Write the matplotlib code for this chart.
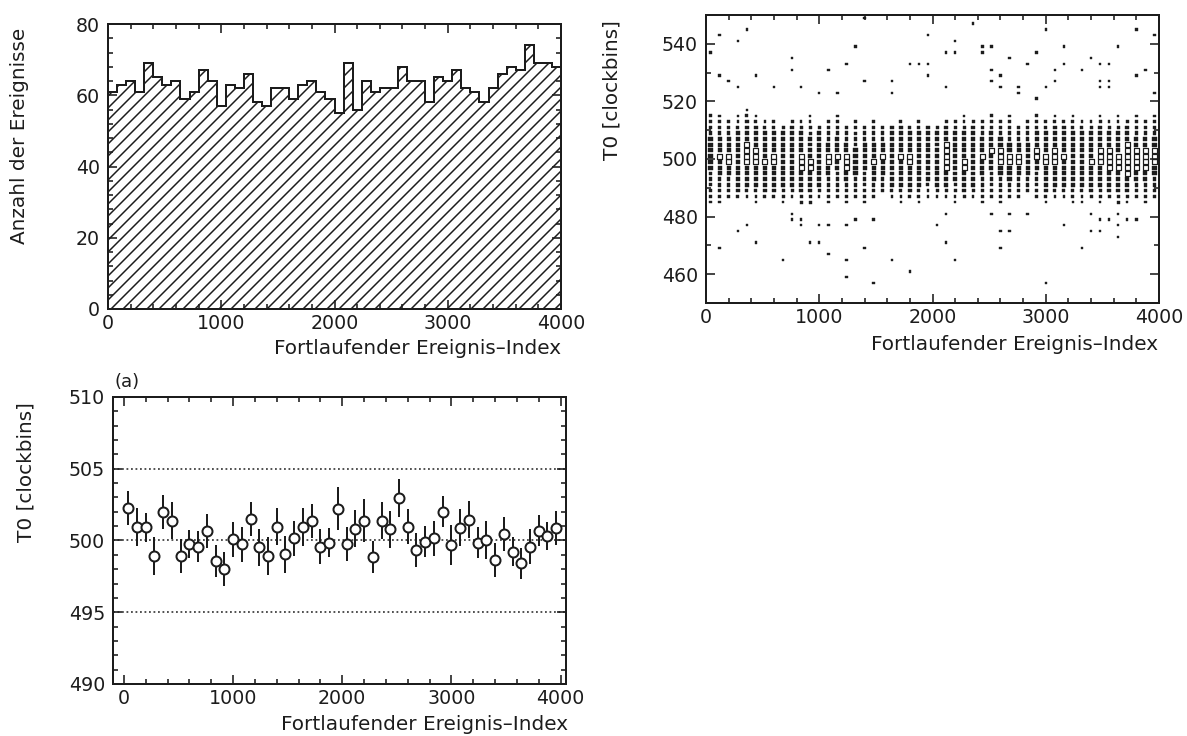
import numpy as np
import matplotlib
matplotlib.use("Agg")
import matplotlib.pyplot as plt
from matplotlib.ticker import MultipleLocator

# ---------------- data ----------------
# event-index binning (80 events per bin, 0..4000)
bin_edges = np.arange(0, 4001, 80)
bin_centers = (bin_edges[:-1] + bin_edges[1:]) / 2

# top-left: number of events per bin
hist_counts = [61, 63, 64, 61, 69, 65, 63, 64, 59, 61,
               67, 64, 57, 63, 62, 66, 58, 57, 62, 62,
               59, 63, 64, 61, 59, 55, 69, 56, 64, 61,
               62, 62, 68, 64, 64, 58, 65, 64, 67, 62,
               61, 58, 62, 66, 68, 67, 74, 69, 69, 68]

# top-right: T0 box plot (2 clockbin rows)
t0_edges = np.arange(450, 551, 2)
band_rows = [485, 487, 489, 491, 493, 495, 497, 499, 501, 503, 505, 507, 509, 511, 513, 515, 517]
band_row_counts = [1.0, 1.6, 2.4, 3.0, 3.4, 4.0, 4.3, 4.6, 4.6, 4.3, 4.0, 3.4, 3.0, 2.4, 1.6, 1.0, 1.0]
band_hi = [515, 515, 513, 515, 517, 515, 513, 513, 511, 513,
           513, 515, 511, 513, 515, 511, 513, 511, 513, 511,
           511, 513, 511, 513, 511, 511, 513, 513, 515, 513,
           513, 515, 513, 515, 511, 513, 515, 513, 515, 513,
           515, 513, 513, 515, 513, 515, 513, 515, 513, 515]
band_lo = [485, 485, 487, 487, 487, 485, 487, 487, 485, 487,
           485, 485, 487, 485, 487, 485, 487, 485, 487, 489,
           487, 485, 487, 485, 487, 487, 487, 485, 487, 487,
           485, 487, 485, 487, 487, 489, 487, 485, 487, 487,
           485, 485, 487, 485, 487, 485, 485, 487, 485, 487]
outlier_idx = [88, 9, 250, 333, 88, 171, 259, 421, 1369, 1296, 1225, 1060, 736, 736, 824, 983,
               1770, 1870, 1944, 1944, 1944, 2099, 2179, 2179, 2335, 2423, 2503, 2423, 2503, 2585,
               2662, 2827, 2903, 2983, 3062, 3062, 3145, 3145, 3307, 3386, 3469, 3469, 3469, 2126,
               1620, 1372, 1625, 2585, 2503, 2750, 2750, 2903, 2983, 1143, 577, 3803, 3639, 3567,
               3567, 3567, 3869, 3797, 3961, 3961,
               112, 274, 356, 442, 686, 766, 766, 842, 842, 922, 995, 995, 1078, 1078, 1245, 1245,
               1245, 1325, 1407, 1487, 1487, 1649, 1811, 2047, 2126, 2126, 2208, 2521, 2600, 2600,
               2680, 2680, 2845, 3004, 3160, 3322, 3395, 3395, 3475, 3491, 3567, 3632, 3639, 3639,
               3803, 3704]
outlier_t0 = [543, 537, 541, 545, 529, 527, 525, 529.5, 548.5, 538, 532, 530, 535.7, 531.6, 525.6, 523.4,
              532.4, 532.4, 532.4, 542.7, 528.3, 536.7, 536.7, 540.8, 547, 539, 539, 536.7, 531, 529,
              535, 533, 537, 545.5, 531, 527, 539.4, 533.3, 531.5, 535.7, 533.6, 527, 525, 524,
              527.7, 526, 522, 524.8, 526.6, 524.8, 523, 520.7, 524.8, 523.7, 525.4, 545.4, 539.4, 533.4,
              526.8, 525, 531.4, 529.3, 542.5, 522.7,
              468.5, 474.4, 476.7, 470.9, 465.2, 480.5, 478.8, 478.8, 477, 471.2, 471.2, 477.3, 477.3, 467.7, 477.4, 465.4,
              459.9, 479.4, 469.7, 479.4, 457.8, 465.7, 461.9, 477.6, 471.8, 480, 464.2, 480, 475.9, 468.3,
              474, 480, 480.3, 456.6, 476.7, 468.5, 474.7, 480.8, 475, 479.6, 479, 481.9, 476.7, 472.9,
              479, 479]
# box side (px) for a cell content of 1..7 entries; small boxes look solid
box_side = [0, 2.4, 3.0, 3.6, 4.1, 5.0, 5.3, 5.6]

# bottom-left: mean T0 per bin with errors
t0_mean = [502.26, 500.93, 500.93, 498.91, 501.98, 501.37, 498.91, 499.75, 499.57, 500.67,
           498.56, 498.00, 500.08, 499.73, 501.49, 499.52, 498.91, 500.97, 499.03, 500.15,
           500.93, 501.37, 499.57, 499.85, 502.21, 499.75, 500.83, 501.37, 498.86, 501.37,
           500.78, 502.96, 500.97, 499.33, 499.92, 500.15, 502.02, 499.68, 500.90, 501.44,
           499.85, 500.04, 498.63, 500.46, 499.22, 498.40, 499.57, 500.69, 500.32, 500.86]
t0_err = [1.2, 1.3, 1.0, 1.3, 1.2, 1.3, 1.2, 1.0, 1.1, 1.2,
          1.1, 1.2, 1.2, 1.2, 1.2, 1.3, 1.3, 1.3, 1.3, 1.2,
          1.3, 1.2, 1.2, 1.0, 1.5, 1.2, 1.3, 1.5, 1.1, 1.3,
          1.3, 1.3, 1.2, 1.2, 1.1, 1.2, 1.1, 1.4, 1.3, 1.3,
          1.1, 1.3, 1.2, 1.2, 1.0, 1.1, 1.2, 1.1, 1.0, 1.2]
ref_lines = [495.0, 500.0, 505.0]

xlabel = "Fortlaufender Ereignis\u2013Index"
ylabel_hist = "Anzahl der Ereignisse"
ylabel_t0 = "T0 [clockbins]"

# ---------------- figure ----------------
INK = "#1c1c1c"
plt.rcParams.update({
    "font.family": ["DejaVu Sans"],
    "text.color": INK, "axes.edgecolor": INK,
    "xtick.color": INK, "ytick.color": INK,
    "axes.linewidth": 2.0, "hatch.linewidth": 1.5, "hatch.color": INK,
})

W, H, DPI = 1187, 736, 72
fig = plt.figure(figsize=(W / DPI, H / DPI), dpi=DPI)
fig.patch.set_facecolor("white")

TICK_FS = 19
TITLE_FS = 20


def box(l, t, r, b):
    return [l / W, 1 - b / H, (r - l) / W, (b - t) / H]


def style(ax, xmaj, xmin, ymaj, ymin):
    ax.xaxis.set_major_locator(MultipleLocator(xmaj))
    ax.xaxis.set_minor_locator(MultipleLocator(xmin))
    ax.yaxis.set_major_locator(MultipleLocator(ymaj))
    ax.yaxis.set_minor_locator(MultipleLocator(ymin))
    ax.tick_params(which="both", direction="in", top=True, right=True,
                   labelsize=TICK_FS, width=1.6)
    ax.tick_params(which="major", length=9)
    ax.tick_params(which="minor", length=5)
    ax.tick_params(axis="x", pad=5)
    ax.tick_params(axis="y", pad=8)


ax1 = fig.add_axes(box(108, 24, 561, 309))
ax2 = fig.add_axes(box(706, 15, 1159, 303))
ax3 = fig.add_axes(box(113, 397, 566, 684))

# --- histogram ---
ax1.stairs(hist_counts, bin_edges, fill=True, facecolor="white", edgecolor=INK,
           hatch="//", linewidth=2.0)
ax1.set_xlim(0, 4000)
ax1.set_ylim(0, 80)
style(ax1, 1000, 200, 20, 4)

# --- T0 box plot ---
hist_mean = np.mean(hist_counts)
t0_centers = (t0_edges[:-1] + t0_edges[1:]) / 2
grid = np.zeros((len(bin_centers), len(t0_centers)))
for k in range(len(bin_centers)):
    shift = t0_mean[k] - 500.0
    for j, r in enumerate(t0_centers):
        if band_lo[k] <= r <= band_hi[k]:
            c = np.interp(r - shift, band_rows, band_row_counts, left=1.0, right=1.0)
            grid[k, j] += max(1, round(c * hist_counts[k] / hist_mean))
h_out, _, _ = np.histogram2d(outlier_idx, outlier_t0, bins=[bin_edges, t0_edges])
grid += h_out
kk, jj = np.nonzero(grid)
cnt = np.clip(grid[kk, jj].astype(int), 1, len(box_side) - 1)
side = np.array(box_side)[cnt]
solid = cnt <= 4
ax2.scatter(bin_centers[kk][solid], t0_centers[jj][solid], s=side[solid] ** 2,
            marker="s", facecolors=INK, edgecolors=INK, linewidths=0.4)
ax2.scatter(bin_centers[kk][~solid], t0_centers[jj][~solid], s=side[~solid] ** 2,
            marker="s", facecolors="none", edgecolors=INK, linewidths=1.2)
ax2.set_xlim(0, 4000)
ax2.set_ylim(450, 550)
style(ax2, 1000, 200, 20, 10)

# --- mean T0 ---
for y in ref_lines:
    ax3.axhline(y, color=INK, lw=1.5, ls=(0, (1.2, 1.8)), zorder=1)
ax3.vlines(bin_centers, np.array(t0_mean) - np.array(t0_err),
           np.array(t0_mean) + np.array(t0_err), color=INK, lw=2, zorder=2)
ax3.plot(bin_centers, t0_mean, "o", ms=10, mfc="white", mec=INK, mew=2.0, zorder=3)
ax3.set_xlim(-100, 4050)
ax3.set_ylim(490, 510)
style(ax3, 1000, 200, 5, 1)

# --- labels ---
def ftxt(x, y, s, fs=TITLE_FS, **kw):
    fig.text(x / W, 1 - y / H, s, fontsize=fs, **kw)

ftxt(561, 348, xlabel, ha="right", va="center")
ftxt(1158, 345, xlabel, ha="right", va="center")
ftxt(568, 725, xlabel, ha="right", va="center")
ftxt(20, 28, ylabel_hist, rotation=90, ha="center", va="top")
ftxt(612, 20, ylabel_t0, rotation=90, ha="center", va="top")
ftxt(26, 402, ylabel_t0, rotation=90, ha="center", va="top")
ftxt(114, 382, "(a)", fs=18, ha="left", va="center")

fig.savefig("out.png", dpi=DPI, facecolor="white")
